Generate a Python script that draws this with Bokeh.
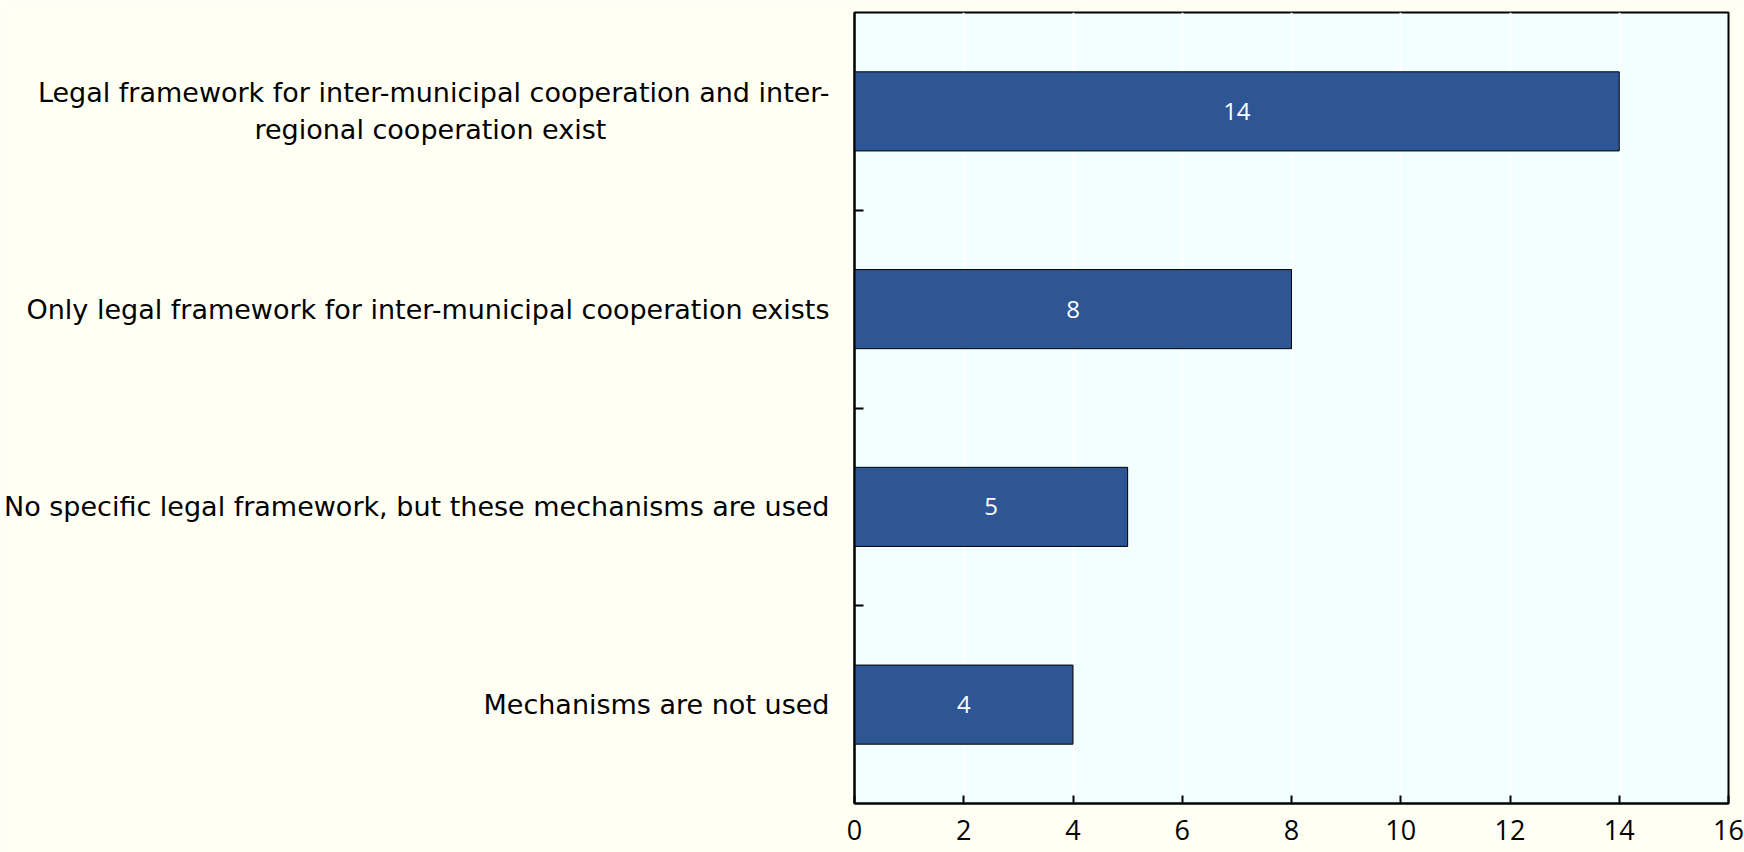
from bokeh.plotting import figure
from bokeh.models import (ColumnDataSource, Range1d, LinearAxis, FixedTicker, LabelSet, Grid)
from bokeh.core.properties import value
from bokeh.embed import file_html
from bokeh.resources import INLINE

categories = [
    "Legal framework for inter-municipal cooperation and inter-\nregional cooperation exist",
    "Only legal framework for inter-municipal cooperation exists",
    "No specific legal framework, but these mechanisms are used",
    "Mechanisms are not used",
]
values = [14, 8, 5, 4]
x_ticks = [0, 2, 4, 6, 8, 10, 12, 14, 16]

n = len(categories)
ypos = [n - i - 0.5 for i in range(n)]          # category centres, top to bottom
boundaries = list(range(1, n))                   # ticks between categories
src = ColumnDataSource(dict(y=ypos, val=values, mid=[v / 2 for v in values],
                            txt=[str(v) for v in values]))

# axis labels are right-aligned per line; pad the short 2nd line with
# non-breaking spaces so it sits centred under the first line
NBSP_PAD = "\u00a0" * 26
def centred(label):
    lines = label.split("\n")
    return "\n".join([lines[0]] + [l + NBSP_PAD for l in lines[1:]])

BG = "#FFFFF4"
p = figure(width=1744, height=852, output_backend="svg", toolbar_location=None,
           y_range=Range1d(0, n), x_range=Range1d(0, 16),
           y_axis_type=None, x_axis_type=None,
           min_border_left=854, min_border_right=16, min_border_top=12, min_border_bottom=49)
p.background_fill_color = "#F2FFFF"
p.border_fill_color = BG
p.outline_line_color = "black"
p.outline_line_width = 2

p.hbar(y="y", right="val", left=0, height=0.4, source=src,
       fill_color="#2E5594", line_color="black", line_width=1)

p.add_layout(LabelSet(x="mid", y="y", text="txt", source=src, text_color="white",
                      text_align="center", text_baseline="middle", text_font_size="24px",
                      text_font=value("Open Sans")))

xa = LinearAxis(ticker=FixedTicker(ticks=x_ticks))
xa.major_tick_in = 8
xa.major_tick_out = 0
xa.minor_tick_line_color = None
xa.axis_line_width = 2
xa.major_tick_line_width = 2
xa.major_label_text_font = "Open Sans"
xa.major_label_text_font_size = "27px"
xa.major_label_text_color = "black"
xa.major_label_standoff = 16
p.add_layout(xa, "below")

ca = LinearAxis(ticker=FixedTicker(ticks=ypos, minor_ticks=boundaries))
ca.major_label_overrides = {y: centred(c) for y, c in zip(ypos, categories)}
ca.axis_line_width = 2
ca.major_tick_line_color = None
ca.minor_tick_in = 9
ca.minor_tick_out = 0
ca.minor_tick_line_width = 2
ca.minor_tick_line_color = "black"
ca.major_label_text_font = "DejaVu Sans"
ca.major_label_text_font_size = "27px"
ca.major_label_text_color = "black"
ca.major_label_standoff = 19
p.add_layout(ca, "left")

p.add_layout(Grid(dimension=0, ticker=xa.ticker, grid_line_color="white", grid_line_width=2))

open("out.html", "w").write(file_html(p, INLINE))
